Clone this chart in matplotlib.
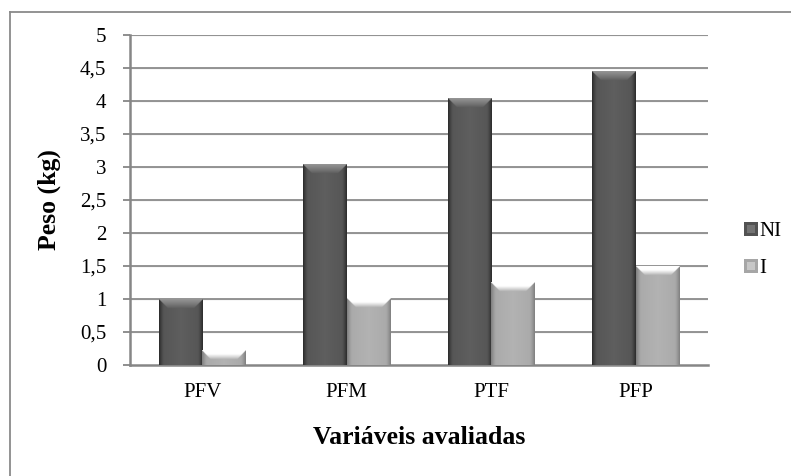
import numpy as np
import matplotlib
matplotlib.use("Agg")
import matplotlib.pyplot as plt
from matplotlib.lines import Line2D
from matplotlib.patches import Rectangle
from matplotlib.legend_handler import HandlerBase

# Data
categories = ["PFV", "PFM", "PTF", "PFP"]
series_names = ["NI", "I"]
ni_values = [1.0, 3.04, 4.04, 4.45]
i_values = [0.22, 1.01, 1.25, 1.5]
y_ticks = [0, 0.5, 1, 1.5, 2, 2.5, 3, 3.5, 4, 4.5, 5]
y_tick_labels = ["0", "0,5", "1", "1,5", "2", "2,5", "3", "3,5", "4", "4,5", "5"]

plt.rcParams["font.family"] = ["Liberation Serif", "DejaVu Serif"]

W, H, DPI = 791, 476, 100
fig = plt.figure(figsize=(W / DPI, H / DPI), dpi=DPI)
ax = fig.add_axes([130 / W, 1 - 365 / H, 578 / W, 330 / H])

ax.set_xlim(-0.5, len(categories) - 0.5)
ax.set_ylim(0, 5)

grid_col = "#8c8c8c"
for yv in y_ticks[1:]:
    ax.axhline(yv - 0.006, color="#d9d9d9", lw=1.0, zorder=1)
    ax.axhline(yv, color=grid_col, lw=1.3, zorder=1)

for side in ["top", "right"]:
    ax.spines[side].set_visible(False)
for side in ["left", "bottom"]:
    ax.spines[side].set_color("#868686")
    ax.spines[side].set_linewidth(1.8)

ax.set_yticks(y_ticks)
ax.set_yticklabels(y_tick_labels, fontsize=15)
ax.set_xticks(range(len(categories)))
ax.set_xticklabels(categories, fontsize=15)
ax.tick_params(axis="y", length=5, width=1.3, color="#868686", pad=12)
ax.tick_params(axis="x", length=0, pad=13)

ax.set_ylabel("Peso (kg)", fontsize=18.5, fontweight="bold", labelpad=14)
ax.set_xlabel("Variáveis avaliadas", fontsize=18.5, fontweight="bold", labelpad=17)

bar_w = 0.3
x = np.arange(len(categories))
colors = {"NI": (0.37, 0.37, 0.37), "I": (0.70, 0.70, 0.70)}
top_hi = {"NI": 0.22, "I": 0.5}

bars_ni = ax.bar(x - bar_w / 2, ni_values, bar_w, color=colors["NI"], zorder=2, label="NI")
bars_i = ax.bar(x + bar_w / 2, i_values, bar_w, color=colors["I"], zorder=2, label="I")

fig.canvas.draw()
px_per_x = ax.bbox.width / (ax.get_xlim()[1] - ax.get_xlim()[0])
px_per_y = ax.bbox.height / (ax.get_ylim()[1] - ax.get_ylim()[0])


def shaded_image(wpx, hpx, base, hi, bevel=9.0, side=5.0, sub=3):
    nx = max(int(wpx * sub), 2)
    ny = max(int(hpx * sub), 2)
    u = (np.arange(nx) + 0.5) / sub
    v = (np.arange(ny) + 0.5) / sub
    U, V = np.meshgrid(u, v)
    dl = U
    dr = wpx - U
    dt = V
    dside = np.minimum(dl, dr)
    shade = np.zeros_like(U)
    # soft darkening towards both sides of the column
    shade -= 0.17 * np.clip(1 - dside / side, 0, 1) ** 1.3
    # slight overall cylindrical tint
    shade -= 0.04 * np.abs((U / wpx) - 0.5) * 2
    # top bevel highlight, mitred at the corners
    b = min(bevel, hpx * 0.6)
    top_region = (dt < b) & (dt <= dside)
    shade = np.where(top_region, hi * (1 - dt / b) ** 0.9, shade)
    rgb = np.clip(np.array(base)[None, None, :] + shade[..., None], 0, 1)
    return rgb


for bars, name in [(bars_ni, "NI"), (bars_i, "I")]:
    for rect in bars:
        x0 = rect.get_x()
        w = rect.get_width()
        h = rect.get_height()
        img = shaded_image(w * px_per_x, h * px_per_y, colors[name], top_hi[name])
        ax.imshow(img, extent=[x0, x0 + w, 0, h], origin="upper",
                  aspect="auto", zorder=3, interpolation="bilinear")

ax.set_xlim(-0.5, len(categories) - 0.5)
ax.set_ylim(0, 5)


class ShadedSquare(HandlerBase):
    def create_artists(self, legend, orig_handle, xdescent, ydescent, width, height, fontsize, trans):
        s = 10
        cx = width - s
        cy = (height - s) / 2
        base = orig_handle.get_facecolor()[:3]
        outer = Rectangle((cx - xdescent, cy - ydescent), s, s,
                          facecolor=tuple(np.clip(np.array(base) - 0.05, 0, 1)),
                          edgecolor="none", transform=trans)
        inner = Rectangle((cx - xdescent + 2, cy - ydescent + 2), s - 4, s - 4,
                          facecolor=tuple(np.clip(np.array(base) + 0.08, 0, 1)),
                          edgecolor="none", transform=trans)
        return [outer, inner]


leg = fig.legend([bars_ni.patches[0], bars_i.patches[0]], series_names,
                 handler_map={Rectangle: ShadedSquare()},
                 loc="center left", bbox_to_anchor=(731 / W, 1 - 250 / H),
                 frameon=False, fontsize=15, handlelength=0.8, handletextpad=0.05,
                 labelspacing=0.85, borderpad=0)

# outer chart-area frame (top and left edges)
fig.add_artist(Line2D([10 / W, 10 / W], [0, 1 - 12 / H], transform=fig.transFigure,
                      color="#8a8a8a", lw=1.3))
fig.add_artist(Line2D([10 / W, 1], [1 - 12 / H, 1 - 12 / H], transform=fig.transFigure,
                      color="#8a8a8a", lw=1.3))

fig.savefig("out.png", dpi=DPI)
